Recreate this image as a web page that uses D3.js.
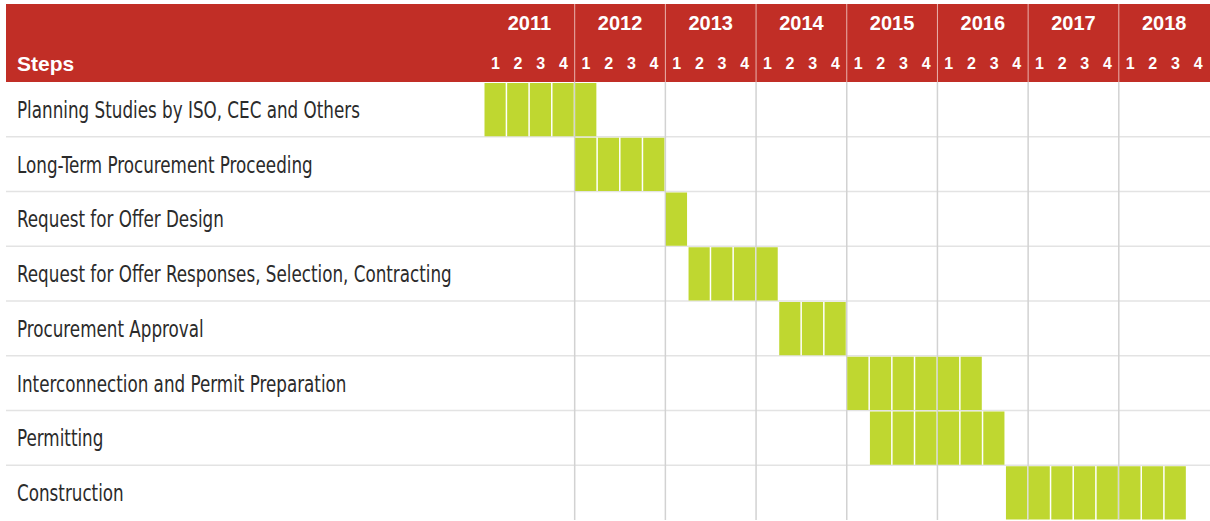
<!DOCTYPE html>
<html lang="en">
  <head>
    <meta charset="UTF-8" />
    <title>Procurement Timeline</title>
    <style>
      body { margin: 0; background: #fff; }
      svg { display: block; }
      .label { font-family: "DejaVu Sans", sans-serif; font-stretch: condensed; font-size: 23px; fill: #2b2b2b; }
      .head { font-family: "Liberation Sans", Arial, sans-serif; font-weight: bold; fill: #fff; }
    </style>
  </head>
  <body>
    <svg id="chart" width="1210" height="521"></svg>

    <script src="https://cdn.jsdelivr.net/npm/d3@7"></script>
    <script>
      // data
      const years = [2011, 2012, 2013, 2014, 2015, 2016, 2017, 2018];
      const quarters = [1, 2, 3, 4];
      const steps = [
        "Planning Studies by ISO, CEC and Others",
        "Long-Term Procurement Proceeding",
        "Request for Offer Design",
        "Request for Offer Responses, Selection, Contracting",
        "Procurement Approval",
        "Interconnection and Permit Preparation",
        "Permitting",
        "Construction",
      ];
      const startYear = [2011, 2012, 2013, 2013, 2014, 2015, 2015, 2016];
      const startQuarter = [1, 1, 1, 2, 2, 1, 2, 4];
      const quarterCount = [5, 4, 1, 4, 3, 6, 6, 8];

      const RED = "#c12e26";
      const GREEN = "#bfd730";

      const left = 6, right = 1210;
      const headTop = 4, headBottom = 82;
      const gridLeft = 484, gridRight = 1209.5;
      const bottom = 520;

      const svg = d3.select("#chart");

      // scales
      const x = d3.scaleLinear()
        .domain([0, years.length * quarters.length])
        .range([gridLeft, gridRight]);
      const xYear = d3.scaleBand().domain(years).range([gridLeft, gridRight]);
      const y = d3.scaleBand().domain(steps).range([headBottom, bottom]);

      // header band
      svg.append("rect")
        .attr("x", left).attr("y", headTop)
        .attr("width", right - left).attr("height", headBottom - headTop)
        .attr("fill", RED);

      svg.append("text")
        .attr("class", "head")
        .attr("x", 17).attr("y", 71)
        .style("font-size", "21px")
        .text("Steps");

      // year separators in header
      svg.selectAll(".hsep")
        .data(years.slice(1))
        .enter().append("line")
        .attr("x1", (d) => xYear(d)).attr("x2", (d) => xYear(d))
        .attr("y1", headTop).attr("y2", headBottom)
        .attr("stroke", "#e9b3ae").attr("stroke-width", 1);

      svg.selectAll(".year")
        .data(years)
        .enter().append("text")
        .attr("class", "head")
        .attr("x", (d) => xYear(d) + xYear.bandwidth() / 2)
        .attr("y", 30)
        .attr("text-anchor", "middle")
        .style("font-size", "20px")
        .text((d) => d);

      const qCells = d3.range(years.length * quarters.length);
      svg.selectAll(".qtr")
        .data(qCells)
        .enter().append("text")
        .attr("class", "head")
        .attr("x", (i) => (x(i) + x(i + 1)) / 2)
        .attr("y", 69)
        .attr("text-anchor", "middle")
        .style("font-size", "16px")
        .text((i) => quarters[i % 4]);

      // row lines
      svg.selectAll(".rowline")
        .data(steps.slice(1))
        .enter().append("line")
        .attr("x1", left).attr("x2", right)
        .attr("y1", (d) => y(d)).attr("y2", (d) => y(d))
        .attr("stroke", "#e3e3e3").attr("stroke-width", 1.5);

      // year lines in body
      svg.selectAll(".yline")
        .data(years.slice(1))
        .enter().append("line")
        .attr("x1", (d) => xYear(d)).attr("x2", (d) => xYear(d))
        .attr("y1", headBottom).attr("y2", bottom)
        .attr("stroke", "#d2d2d2").attr("stroke-width", 1.5);

      // labels (squeezed to look like the condensed face of the original)
      const labels = svg.selectAll(".label")
        .data(steps)
        .enter().append("text")
        .attr("class", "label")
        .attr("x", 0)
        .attr("y", 0)
        .text((d) => d);

      const longest = d3.max(labels.nodes(), (n) => n.getComputedTextLength());
      const sx = Math.min(1, 435 / longest);
      labels.attr("transform", (d) =>
        `translate(17,${y(d) + y.bandwidth() / 2 + 8.4}) scale(${sx},1)`);

      // bars, one block per quarter
      const blocks = [];
      steps.forEach((s, i) => {
        const q0 = (startYear[i] - years[0]) * 4 + startQuarter[i] - 1;
        for (let k = 0; k < quarterCount[i]; k++) {
          blocks.push({ step: s, q: q0 + k });
        }
      });

      svg.selectAll(".block")
        .data(blocks)
        .enter().append("rect")
        .attr("x", (d) => x(d.q) + 0.5)
        .attr("width", (d) => x(d.q + 1) - x(d.q) - 1.5)
        .attr("y", (d) => y(d.step) + 1)
        .attr("height", y.bandwidth() - 1.5)
        .attr("fill", GREEN);
    </script>
  </body>
</html>
